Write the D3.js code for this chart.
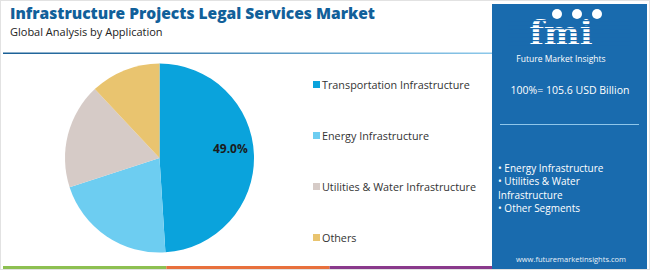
<!DOCTYPE html>
<html>
<head>
<meta charset="utf-8">
<script src="https://cdn.jsdelivr.net/npm/d3@7"></script>
<style>
  body { margin: 0; background: #fff; }
  svg { display: block; font-family: "Open Sans", sans-serif; }
</style>
</head>
<body>
<div id="chart"></div>
<script>
const categories = ["Transportation Infrastructure", "Energy Infrastructure", "Utilities & Water Infrastructure", "Others"];
const shares = [49.0, 21.0, 18.0, 12.0];
const colors = ["#0aa3dc", "#6dcdf1", "#d6cbc7", "#e9c46f"];
const panelBullets = ["\u2022 Energy Infrastructure", "\u2022 Utilities & Water", "Infrastructure", "\u2022 Other Segments"];
const totalLabel = "100%= 105.6 USD Billion";

const width = 650, height = 270;
const svg = d3.select("#chart").append("svg")
  .attr("width", width)
  .attr("height", height);

// frame
svg.append("rect")
  .attr("x", 0.5).attr("y", 0.5)
  .attr("width", width - 1).attr("height", height - 1)
  .attr("fill", "#fff").attr("stroke", "#e2e2e2");

// title
svg.append("text")
  .attr("x", 10).attr("y", 19)
  .attr("font-size", 16.5).attr("font-weight", 800)
  .attr("fill", "#11609a")
  .attr("textLength", 365).attr("lengthAdjust", "spacingAndGlyphs")
  .text("Infrastructure Projects Legal Services Market");
svg.append("text")
  .attr("x", 10).attr("y", 35.5)
  .attr("font-size", 11)
  .attr("fill", "#222")
  .text("Global Analysis by Application");

// header line
const grad = svg.append("defs").append("linearGradient").attr("id", "hl");
grad.append("stop").attr("offset", "0%").attr("stop-color", "#1a5f95");
grad.append("stop").attr("offset", "100%").attr("stop-color", "#8cc8ea");
svg.append("rect")
  .attr("x", 3).attr("y", 52.5).attr("width", 490).attr("height", 1.5)
  .attr("fill", "url(#hl)");

// pie
const cx = 159.5, cy = 158, r = 94.5;
const pie = d3.pie().sort(null).value(d => d.value);
const arc = d3.arc().innerRadius(0).outerRadius(r);
const labelArc = d3.arc().innerRadius(r * 0.75).outerRadius(r * 0.75);
const data = categories.map((c, i) => ({ name: c, value: shares[i], color: colors[i] }));
const arcs = pie(data);

const g = svg.append("g").attr("transform", "translate(" + cx + "," + cy + ")");
g.selectAll("path")
  .data(arcs)
  .join("path")
  .attr("d", arc)
  .attr("fill", d => d.data.color);

g.selectAll("text")
  .data(arcs.filter(d => d.data.value > 40))
  .join("text")
  .attr("transform", d => "translate(" + labelArc.centroid(d) + ")")
  .attr("text-anchor", "middle")
  .attr("dy", "-0.25em")
  .attr("font-size", 12).attr("font-weight", 700)
  .attr("fill", "#1b1b1b")
  .text(d => d.data.value.toFixed(1) + "%");

// legend
const legY = d3.scalePoint().domain(categories).range([84.5, 237.5]);
const leg = svg.append("g");
leg.selectAll("rect")
  .data(data)
  .join("rect")
  .attr("x", 313).attr("y", d => legY(d.name) - 3.5)
  .attr("width", 7).attr("height", 7)
  .attr("fill", d => d.color);
leg.selectAll("text")
  .data(data)
  .join("text")
  .attr("x", 322).attr("y", d => legY(d.name) + 4)
  .attr("font-size", 10.8)
  .attr("fill", "#333")
  .text(d => d.name);

// bottom strips
const strips = ["#8dc051", "#e8703d", "#8a3a8c"];
const sx = d3.scaleLinear().domain([0, strips.length]).range([3, 493]);
svg.selectAll(".strip")
  .data(strips)
  .join("rect")
  .attr("class", "strip")
  .attr("x", (d, i) => sx(i)).attr("y", 266)
  .attr("width", (d, i) => sx(i + 1) - sx(i)).attr("height", 3)
  .attr("fill", d => d);

// side panel
const px = 492, pw = 155;
svg.append("rect")
  .attr("x", px).attr("y", 4).attr("width", pw).attr("height", 265)
  .attr("fill", "#196bae");

// logo
const logo = svg.append("g");
logo.append("text")
  .attr("x", 561).attr("y", 45)
  .attr("text-anchor", "middle")
  .attr("font-family", "DejaVu Serif, serif")
  .attr("font-size", 34).attr("font-weight", 700)
  .attr("fill", "#fff")
  .text("fmi");
for (let y = 20; y < 46; y += 4) {
  logo.append("rect")
    .attr("x", px + 16).attr("y", y).attr("width", pw - 32).attr("height", 1.2)
    .attr("fill", "#196bae");
}
[[557, 14], [577, 14], [597, 14]].forEach(([x, y]) => {
  logo.append("circle").attr("cx", x).attr("cy", y).attr("r", 5).attr("fill", "#fff");
});
logo.append("text")
  .attr("x", 561).attr("y", 62)
  .attr("text-anchor", "middle")
  .attr("font-size", 8.5)
  .attr("fill", "#fff")
  .text("Future Market Insights");

svg.append("text")
  .attr("x", 570).attr("y", 94)
  .attr("text-anchor", "middle")
  .attr("font-size", 10.5)
  .attr("fill", "#fff")
  .text(totalLabel);

svg.append("line")
  .attr("x1", 500).attr("x2", 639)
  .attr("y1", 124.5).attr("y2", 124.5)
  .attr("stroke", "#8fc6ea").attr("stroke-width", 1.2);

svg.append("g").selectAll("text")
  .data(panelBullets)
  .join("text")
  .attr("x", 498).attr("y", (d, i) => 172 + i * 13.4)
  .attr("font-size", 10)
  .attr("fill", "#fff")
  .text(d => d);

svg.append("text")
  .attr("x", 571).attr("y", 262)
  .attr("text-anchor", "middle")
  .attr("font-size", 7.5)
  .attr("fill", "#e8f1f8")
  .text("www.futuremarketinsights.com");
</script>
</body>
</html>
